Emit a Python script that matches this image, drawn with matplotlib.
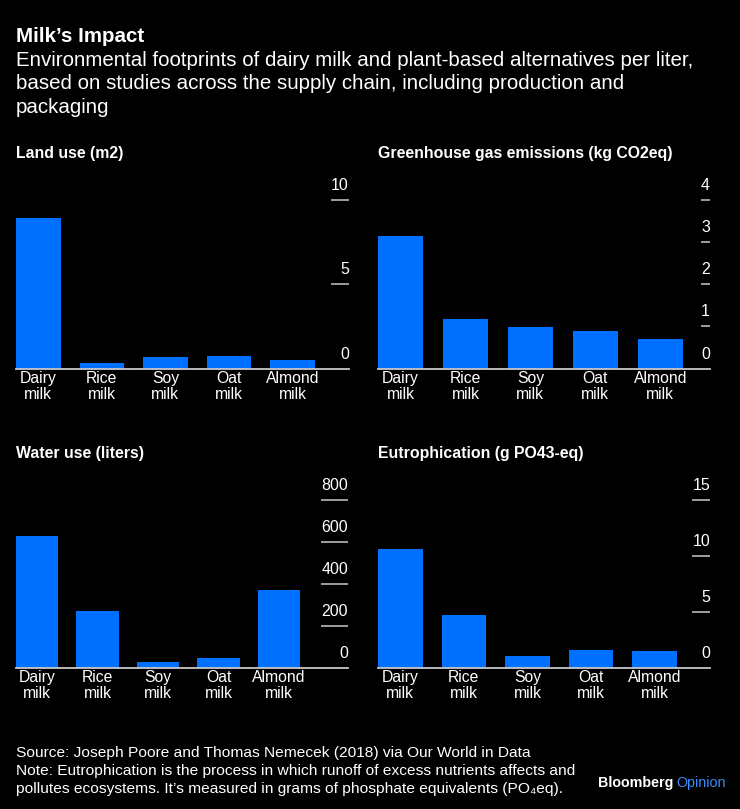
import matplotlib
matplotlib.use("Agg")
import matplotlib.pyplot as plt
import matplotlib.transforms as mtransforms

# ---------------- data ----------------
categories = ["Dairy\nmilk", "Rice\nmilk", "Soy\nmilk", "Oat\nmilk", "Almond\nmilk"]
land_use = [8.95, 0.34, 0.66, 0.76, 0.50]
ghg_emissions = [3.15, 1.18, 0.98, 0.90, 0.70]
water_use = [628, 270, 28, 48, 371]
eutrophication = [10.65, 4.69, 1.06, 1.60, 1.50]

land_ticks = [0, 5, 10]
ghg_ticks = [0, 1, 2, 3, 4]
water_ticks = [0, 200, 400, 600, 800]
eutro_ticks = [0, 5, 10, 15]

panel_titles = ["Land use (m2)", "Greenhouse gas emissions (kg CO2eq)",
                "Water use (liters)", "Eutrophication (g PO43-eq)"]

title = "Milk\u2019s Impact"
subtitle_lines = [
    "Environmental footprints of dairy milk and plant-based alternatives per liter,",
    "based on studies across the supply chain, including production and",
    "packaging",
]
footer_lines = [
    "Source: Joseph Poore and Thomas Nemecek (2018) via Our World in Data",
    "Note: Eutrophication is the process in which runoff of excess nutrients affects and",
    "pollutes ecosystems. It\u2019s measured in grams of phosphate equivalents (PO\u2084eq).",
]

# ---------------- style ----------------
W, H = 740, 809
BG = "#000000"
BAR = "#0070ff"
TXT = "#ffffff"
LINE = "#c8c8c8"
FONT = ["Liberation Sans", "DejaVu Sans"]
plt.rcParams["font.family"] = FONT

fig = plt.figure(figsize=(W / 100, H / 100), dpi=100, facecolor=BG)


def fy(py):
    return 1 - py / H


def fx(px):
    return px / W


# header
fig.text(fx(16), fy(41.7), title, color=TXT, fontsize=14.8, fontweight="bold", va="baseline")
for i, ln in enumerate(subtitle_lines):
    fig.text(fx(16), fy(66 + 23.4 * i), ln, color=TXT, fontsize=14.8, va="baseline")

# panels: (left px, right px, baseline px, top tick px, xlim)
layout = [
    (16, 349, 368.5, 200.3, (-0.351, 4.89)),
    (378, 710, 368.5, 200.3, (-0.346, 4.765)),
    (16, 348, 667.7, 500.0, (-0.35, 5.14)),
    (378, 710, 667.7, 500.0, (-0.35, 4.87)),
]
series = [land_use, ghg_emissions, water_use, eutrophication]
ticks = [land_ticks, ghg_ticks, water_ticks, eutro_ticks]

axes = []
tick_texts = []
for k in range(4):
    l, r, b, t, xl = layout[k]
    ax = fig.add_axes([fx(l), fy(b), (r - l) / W, (b - t) / H])
    ax.set_facecolor(BG)
    x = list(range(len(categories)))
    ax.bar(x, series[k], width=0.70, color=BAR, zorder=2)
    ax.set_xlim(*xl)
    ax.set_ylim(0, max(ticks[k]))
    for s in ["top", "right", "left"]:
        ax.spines[s].set_visible(False)
    ax.spines["bottom"].set_color(LINE)
    ax.spines["bottom"].set_linewidth(1.3)
    ax.spines["bottom"].set_zorder(3)
    ax.set_yticks([])
    ax.set_xticks(x)
    ax.set_xticklabels(categories, color=TXT, fontsize=11.3, linespacing=1.08)
    ax.tick_params(axis="x", length=0, pad=1.5)
    # tick labels (right aligned, above a short line)
    blend = mtransforms.blended_transform_factory(ax.transAxes, ax.transData)
    tt = []
    for v in ticks[k]:
        txt = ax.annotate(str(v), xy=(1.0, v), xycoords=blend, xytext=(0, 10),
                          textcoords="offset pixels", ha="right", va="baseline",
                          color=TXT, fontsize=11.5, annotation_clip=False)
        tt.append(txt)
    tick_texts.append(tt)
    axes.append(ax)
    # panel title
    fig.text(fx(l), fy(158.3 if k < 2 else 458.3), panel_titles[k], color=TXT,
             fontsize=11.4, fontweight="bold", va="baseline")

fig.canvas.draw()
renderer = fig.canvas.get_renderer()
for k, ax in enumerate(axes):
    l, r, b, t, xl = layout[k]
    maxw = max(tx.get_window_extent(renderer).width for tx in tick_texts[k])
    blend = mtransforms.blended_transform_factory(ax.transAxes, ax.transData)
    x0 = 1 - maxw / (r - l)
    for v in ticks[k]:
        if v == 0:
            continue
        ax.plot([x0, 1.0], [v, v], transform=blend, color=LINE, lw=1.1,
                clip_on=False, solid_capstyle="butt")

# footer
for i, ln in enumerate(footer_lines):
    fig.text(fx(16), fy(757.5 + 17.5 * i), ln, color=TXT, fontsize=11.15, va="baseline")

bt = fig.text(fx(598), fy(787), "Bloomberg", color=TXT, fontsize=10.3,
              fontweight="bold", va="baseline")
fig.canvas.draw()
bb = bt.get_window_extent(fig.canvas.get_renderer())
fig.text(fx(bb.x1 + 3), fy(787), "Opinion", color="#3d8bff", fontsize=10.3, va="baseline")

fig.savefig("out.png", dpi=100, facecolor=BG)
